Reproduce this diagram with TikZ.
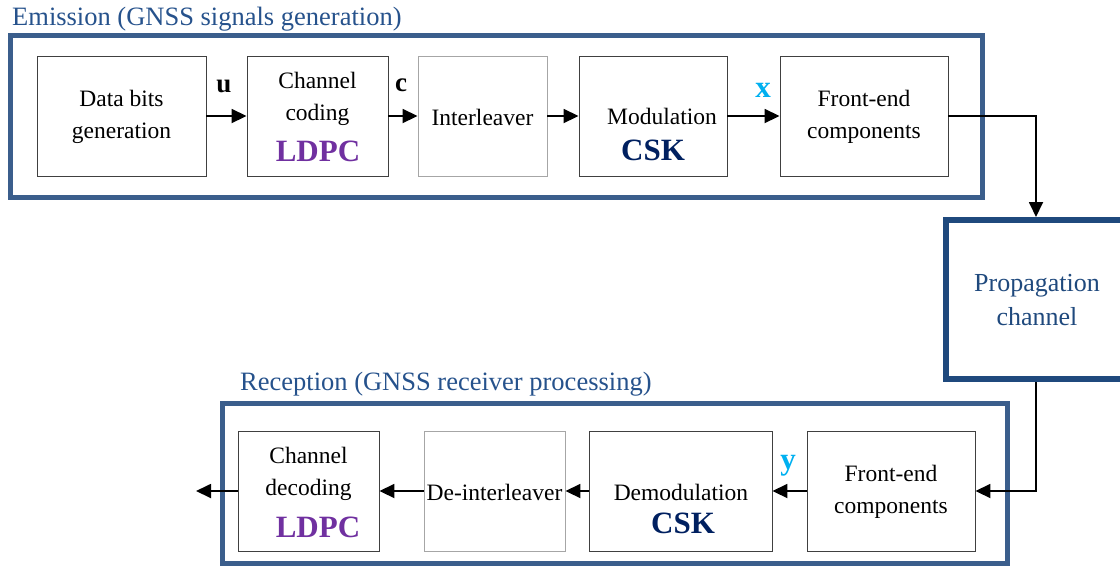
\documentclass[tikz,border=0pt]{standalone}
\usepackage{fontspec}
\setmainfont{Liberation Serif}
\usetikzlibrary{arrows.meta}
\definecolor{frameblue}{RGB}{59,94,140}
\definecolor{propblue}{RGB}{31,73,125}
\definecolor{titleblue}{RGB}{38,82,140}
\definecolor{ldpcpurple}{RGB}{112,48,160}
\definecolor{cskblue}{RGB}{0,32,96}
\definecolor{sigblue}{RGB}{0,176,240}
\begin{document}
\begin{tikzpicture}[x=1pt,y=-1pt,
  blk/.style={draw=black!75, line width=0.9pt, minimum height=120pt, inner sep=0pt},
  lblk/.style={blk, draw=black!35},
  txt/.style={font=\fontsize{23.5}{32}\selectfont, align=center, inner sep=0pt},
  ttl/.style={font=\fontsize{26.5}{32}\selectfont, text=titleblue, inner sep=0pt},
  code/.style={font=\fontsize{31}{32}\selectfont\bfseries, inner sep=0pt},
  sig/.style={font=\fontsize{27}{30}\selectfont\bfseries, inner sep=0pt},
  bsig/.style={font=\fontsize{31}{32}\selectfont\bfseries, text=sigblue, inner sep=0pt},
  frame/.style={draw=frameblue, line width=5pt},
  arr/.style={draw=black, line width=1.8pt, -{Triangle[length=15pt,width=14pt]}}
]
\useasboundingbox (0,0) rectangle (1120,566);
\clip (0,0) rectangle (1120,566);

% Emission
\node[ttl, anchor=base west] (emt) at (12,25) {Emission (GNSS signals generation)};
\node[frame, minimum width=972pt, minimum height=162pt, inner sep=0pt] (emf) at (496,116) {};

\node[blk, minimum width=169pt] (data) at (121.5,116) {};
\node[txt] (datat) at (121.5,117) {Data bits\\generation};
\node[blk, minimum width=141pt] (cc) at (317.5,116) {};
\node[txt] (cct) at (317.5,98.5) {Channel\\coding};
\node[code, text=ldpcpurple] (ccl) at (318,151) {LDPC};
\node[lblk, minimum width=129pt] (il) at (482.5,116) {};
\node[txt] (ilt) at (482.5,117) {Interleaver};
\node[blk, minimum width=148pt] (mod) at (653,116) {};
\node[txt] (modt) at (662,116.5) {Modulation};
\node[code, text=cskblue] (modc) at (653,150) {CSK};
\node[blk, minimum width=168pt] (fe) at (864,116) {};
\node[txt] (fet) at (864,117) {Front-end\\components};

\node[sig] (u) at (224,86) {u};
\node[sig] (c) at (401,85) {c};
\node[bsig] (x) at (763,90) {x};

\draw[arr] (data.east) -- (cc.west);
\draw[arr] (cc.east) -- (il.west);
\draw[arr] (il.east) -- (mod.west);
\draw[arr] (mod.east) -- (fe.west);

% Propagation
\node[draw=propblue, line width=6pt, minimum width=180pt, minimum height=159pt, inner sep=0pt] (prop) at (1036,299.5) {};
\node[font=\fontsize{26}{34}\selectfont, text=propblue, align=center, inner sep=0pt] (propt) at (1037,300) {Propagation\\channel};
\draw[arr] (fe.east) -| (prop.north);

% Reception
\node[ttl, anchor=base west] (rct) at (240,390) {Reception (GNSS receiver processing)};
\node[frame, minimum width=785pt, minimum height=160pt, inner sep=0pt] (rcf) at (614.5,483) {};

\node[blk, minimum width=141pt] (cd) at (308.5,491) {};
\node[txt] (cdt) at (308.5,473.5) {Channel\\decoding};
\node[code, text=ldpcpurple] (cdl) at (318,527) {LDPC};
\node[lblk, minimum width=141pt] (di) at (494.5,491) {};
\node[txt] (dit) at (494.5,492) {De-interleaver};
\node[blk, minimum width=183pt] (dm) at (680.5,491) {};
\node[txt] (dmt) at (681,492) {Demodulation};
\node[code, text=cskblue] (dmc) at (683,523) {CSK};
\node[blk, minimum width=168pt] (fe2) at (891,491) {};
\node[txt] (fe2t) at (891,492) {Front-end\\components};

\node[bsig] (y) at (788,466) {y};
\coordinate (out) at (196,491);

\draw[arr] (prop.south) |- (fe2.east);
\draw[arr] (fe2.west) -- (dm.east);
\draw[arr] (dm.west) -- (di.east);
\draw[arr] (di.west) -- (cd.east);
\draw[arr] (cd.west) -- (out);
\end{tikzpicture}
\end{document}
